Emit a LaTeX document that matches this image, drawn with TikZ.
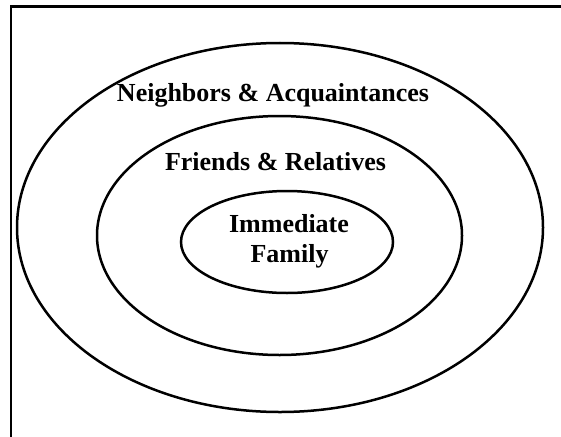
\documentclass[tikz,border=0pt]{standalone}
\usepackage{fontspec}
\setmainfont{Liberation Serif}
\usetikzlibrary{shapes.geometric}
\begin{document}
\begin{tikzpicture}[x=1pt,y=-1pt,
  ring/.style={draw=black, line width=2.5pt, ellipse, inner sep=0pt},
  lbl/.style={font=\bfseries\fontsize{26}{30}\selectfont, align=center, inner sep=0pt, anchor=base}]
\useasboundingbox (0,0) rectangle (561,436);
\begin{scope}
\clip (0,0) rectangle (561,436);
\draw[line width=2.5pt] (11,6.5) rectangle (600,480);
\end{scope}
\node[ring, minimum width=526pt, minimum height=369pt] (outer) at (280,227.5) {};
\node[ring, minimum width=365pt, minimum height=239pt] (middle) at (279.5,235.5) {};
\node[ring, minimum width=212pt, minimum height=102pt] (inner) at (287,242) {};
\node[lbl] (t1) at (273,101) {Neighbors \& Acquaintances};
\node[lbl] (t2) at (275.5,170) {Friends \& Relatives};
\node[lbl] (t3) at (289,232) {Immediate};
\node[lbl] (t4) at (289.5,262) {Family};
\end{tikzpicture}
\end{document}
